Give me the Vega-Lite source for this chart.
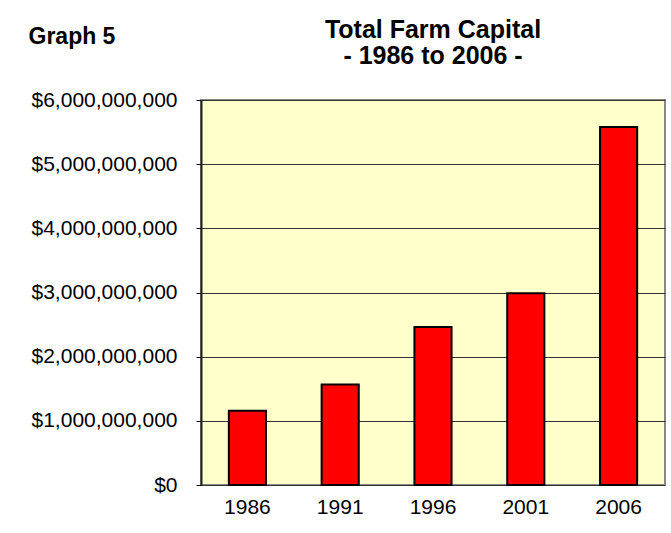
{
  "$schema": "https://vega.github.io/schema/vega-lite/v6.json",
  "width": 464,
  "height": 385,
  "autosize": "none",
  "padding": {"left": 201, "top": 100, "right": 6, "bottom": 48},
  "background": "white",
  "title": {
    "text": ["Total Farm Capital", "- 1986 to 2006 -"],
    "font": "Liberation Sans",
    "fontSize": 25,
    "fontWeight": "bold",
    "color": "black",
    "anchor": "middle",
    "frame": "group",
    "baseline": "alphabetic",
    "lineHeight": 26,
    "offset": 0,
    "dy": 64
  },
  "data": {
    "values": [
      {"year": "1986", "capital": 1156000000},
      {"year": "1991", "capital": 1567000000},
      {"year": "1996", "capital": 2464000000},
      {"year": "2001", "capital": 2990000000},
      {"year": "2006", "capital": 5580000000}
    ]
  },
  "mark": {"type": "bar", "color": "#FF0000", "stroke": "black", "strokeWidth": 2},
  "encoding": {
    "x": {
      "field": "year",
      "type": "ordinal",
      "scale": {"paddingInner": 0.6, "paddingOuter": 0.3},
      "axis": {
        "title": null,
        "labelAngle": 0,
        "ticks": false,
        "domain": false,
        "labelFont": "Liberation Sans",
        "labelFontSize": 21,
        "labelColor": "black",
        "labelPadding": 11
      }
    },
    "y": {
      "field": "capital",
      "type": "quantitative",
      "scale": {"domain": [0, 6000000000], "nice": false},
      "axis": {
        "values": [0, 1000000000, 2000000000, 3000000000, 4000000000, 5000000000, 6000000000],
        "format": "$,d",
        "title": "Graph 5",
        "titleAngle": 0,
        "titleX": -173,
        "titleY": -57,
        "titleAlign": "left",
        "titleBaseline": "alphabetic",
        "titleFont": "Liberation Sans",
        "titleFontSize": 23,
        "titleFontWeight": "bold",
        "titleColor": "black",
        "labelFont": "Liberation Sans",
        "labelFontSize": 21,
        "labelColor": "black",
        "labelPadding": 19,
        "tickSize": 5,
        "tickColor": "black",
        "domainColor": "#222222",
        "domainWidth": 2,
        "grid": true,
        "gridColor": "#333333",
        "gridWidth": 1
      }
    }
  },
  "config": {
    "view": {"fill": "#FFFFCC", "stroke": "#888888", "strokeWidth": 2}
  }
}
